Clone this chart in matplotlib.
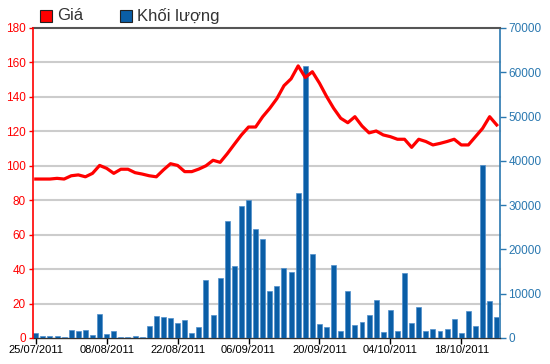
import matplotlib
matplotlib.use("Agg")
import matplotlib.pyplot as plt
from matplotlib.patches import Rectangle
from matplotlib.transforms import blended_transform_factory
import numpy as np

plt.rcParams['font.family'] = ['Liberation Sans', 'DejaVu Sans']

tick_labels = ["25/07/2011", "08/08/2011", "22/08/2011", "06/09/2011",
               "20/09/2011", "04/10/2011", "18/10/2011"]
tick_every = 10

price = [92.3, 92.3, 92.3, 92.7, 92.3, 94.2, 94.7, 93.6, 95.6, 100.2,
         98.5, 95.6, 98.0, 98.0, 96.0, 95.2, 94.2, 93.6, 97.6, 101.2,
         100.2, 96.6, 96.6, 98.1, 100.0, 103.2, 102.0, 107.0, 112.5, 117.9,
         122.5, 122.5, 128.5, 133.4, 139.0, 146.5, 150.5, 158.0, 151.3, 154.6,
         148.0, 140.3, 133.4, 127.6, 125.0, 128.5, 123.1, 119.1, 120.2, 117.9,
         116.9, 115.4, 115.4, 110.7, 115.4, 114.1, 112.1, 113.0, 114.1, 115.4,
         112.1, 112.1, 116.9, 121.7, 128.5, 123.7]

volume = [1050, 450, 450, 450, 150, 1800, 1600, 1880, 750, 5350,
          980, 1650, 200, 200, 450, 230, 2700, 5000, 4750, 4450,
          3300, 4150, 1050, 2500, 13100, 5300, 13500, 26400, 16300, 29900,
          31100, 24700, 22400, 10600, 11800, 15700, 14800, 32800, 61500, 19000,
          3200, 2500, 16500, 1650, 10700, 2900, 3700, 5200, 8650, 1400,
          6300, 1650, 14700, 3400, 7000, 1650, 1950, 1650, 1950, 4200,
          1100, 6200, 2750, 39000, 8300, 4700]

RED = '#ff0000'
BLUE_BAR = '#0a5ea6'
BLUE_AX = '#2a78b0'

fig = plt.figure(figsize=(5.5, 3.64), dpi=100)
ax = fig.add_axes([33/550, 1-338/364, (500-33)/550, (338-28)/364])
axp = ax.twinx()

x = np.arange(len(volume))
ax.bar(x, volume, width=0.7, color=BLUE_BAR, edgecolor='#4f8fcc', linewidth=0.5, zorder=3)
ax.set_ylim(0, 70000)
ax.set_xlim(-0.39, len(volume) - 1 + 0.46)

axp.set_ylim(0, 180)
axp.plot(x, price, color=RED, lw=2.3, solid_joinstyle='round', zorder=5)

# gridlines (left axis values) drawn behind bars
ptick = np.arange(0, 181, 20)
tr = blended_transform_factory(ax.transAxes, axp.transData)
for v in ptick[1:-1]:
    ax.plot([0, 1], [v, v], transform=tr, color='#cccccc', lw=1.5, zorder=1, clip_on=False)

# axis placement
ax.yaxis.tick_right()
axp.yaxis.tick_left()
ax.set_yticks(np.arange(0, 70001, 10000))
axp.set_yticks(ptick)
ax.tick_params(axis='y', colors=BLUE_AX, labelsize=8.5, length=4, width=1, pad=2)
axp.tick_params(axis='y', colors=RED, labelsize=8.5, length=3, width=1, pad=2)
axp.tick_params(axis='x', length=0)
ax.set_xticks(np.arange(0, len(volume), tick_every))
ax.set_xticklabels(tick_labels)
ax.tick_params(axis='x', colors='black', labelsize=8, length=4, width=1, pad=1)

for a in (ax, axp):
    for s in a.spines.values():
        s.set_visible(False)
axp.spines['left'].set_visible(True)
axp.spines['left'].set_color(RED)
axp.spines['left'].set_linewidth(1.2)
ax.spines['right'].set_visible(True)
ax.spines['right'].set_color(BLUE_AX)
ax.spines['right'].set_linewidth(1.2)
ax.spines['bottom'].set_visible(True)
ax.spines['bottom'].set_color('#333333')
ax.spines['bottom'].set_linewidth(1.0)
ax.spines['top'].set_visible(True)
ax.spines['top'].set_color('#555555')
ax.spines['top'].set_linewidth(1.5)

axp.set_zorder(ax.get_zorder() + 1)
axp.patch.set_visible(False)

# legend
W, H = 550, 364
def fx(px): return px / W
def fy(py): return 1 - py / H
fig.add_artist(Rectangle((fx(40), fy(22)), 12/W, 12/H, transform=fig.transFigure,
                         facecolor=RED, edgecolor='#222222', lw=0.8))
fig.text(fx(57), fy(16), "Giá", fontsize=12, color='#333333', va='center', ha='left')
fig.add_artist(Rectangle((fx(120), fy(22)), 12/W, 12/H, transform=fig.transFigure,
                         facecolor=BLUE_BAR, edgecolor='#222222', lw=0.8))
fig.text(fx(137), fy(16), "Khối lượng", fontsize=12, color='#333333', va='center', ha='left')

fig.savefig("out.png", dpi=100)
